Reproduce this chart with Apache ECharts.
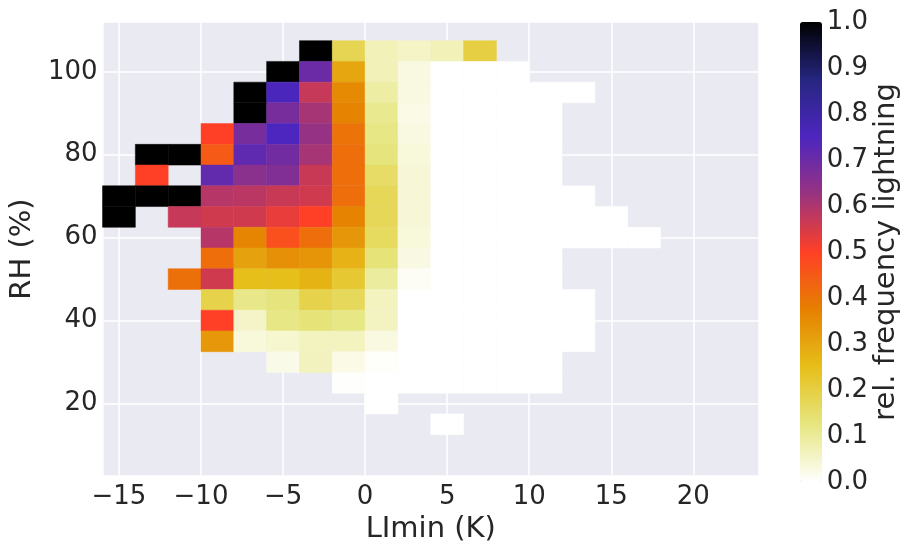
<!DOCTYPE html>
<html><head><meta charset="utf-8">
<script src="https://cdn.jsdelivr.net/npm/echarts@6/dist/echarts.min.js"></script>
<style>html,body{margin:0;padding:0;background:#fff}#c{width:902px;height:549px}</style>
</head><body><div id="c"></div><script>
// bin centres
const xCenters = [-15,-13,-11,-9,-7,-5,-3,-1,1,3,5,7,9,11,13,15,17];
const yCenters = [105,100,95,90,85,80,75,70,65,60,55,50,45,40,35,30,25,20,15];
const n = null;
// relative lightning frequency, one array per RH bin (columns follow xCenters)
const rh105 = [n,n,n,n,n,n,1.0,0.18,0.07,0.055,0.07,0.20,n,n,n,n,n];
const rh100 = [n,n,n,n,n,1.0,0.70,0.30,0.07,0.03,0,0,0,n,n,n,n];
const rh95  = [n,n,n,n,1.0,0.755,0.57,0.355,0.09,0.03,0,0,0,0,0,n,n];
const rh90  = [n,n,n,n,1.0,0.68,0.61,0.37,0.11,0.025,0,0,0,0,n,n,n];
const rh85  = [n,n,n,0.50,0.68,0.75,0.63,0.40,0.12,0.03,0,0,0,0,n,n,n];
const rh80  = [n,1.0,1.0,0.45,0.72,0.69,0.61,0.41,0.13,0.035,0,0,0,0,n,n,n];
const rh75  = [n,0.50,n,0.715,0.65,0.665,0.567,0.41,0.157,0.038,0,0,0,0,n,n,n];
const rh70  = [1.0,1.0,1.0,0.59,0.585,0.567,0.557,0.41,0.173,0.038,0,0,0,0,0,n,n];
const rh65  = [1.0,n,0.57,0.557,0.557,0.528,0.50,0.37,0.173,0.038,0,0,0,0,0,0,n];
const rh60  = [n,n,n,0.59,0.365,0.469,0.41,0.33,0.165,0.036,0,0,0,0,0,0,0];
const rh55  = [n,n,n,0.41,0.31,0.343,0.333,0.276,0.135,0.028,0,0,0,0,n,n,n];
const rh50  = [n,n,0.406,0.557,0.25,0.25,0.274,0.22,0.094,0.01,0,0,0,0,n,n,n];
const rh45  = [n,n,n,0.19,0.115,0.13,0.19,0.17,0.062,0,0,0,0,0,0,n,n];
const rh40  = [n,n,n,0.50,0.054,0.12,0.135,0.12,0.06,0,0,0,0,0,0,n,n];
const rh35  = [n,n,n,0.327,0.035,0.047,0.062,0.062,0.03,0,0,0,0,0,0,n,n];
const rh30  = [n,n,n,n,n,0.023,0.063,0.025,0.005,0,0,0,0,0,n,n,n];
const rh25  = [n,n,n,n,n,n,n,0.003,0,0,0,0,0,0,n,n,n];
const rh20  = [n,n,n,n,n,n,n,n,0,n,n,n,n,n,n,n,n];
const rh15  = [n,n,n,n,n,n,n,n,n,n,0,n,n,n,n,n,n];
const rows = [rh105,rh100,rh95,rh90,rh85,rh80,rh75,rh70,rh65,rh60,rh55,rh50,rh45,rh40,rh35,rh30,rh25,rh20,rh15];

const xTicks = [-15,-10,-5,0,5,10,15,20];
const yTicks = [20,40,60,80,100];
const cbTicks = [0,0.1,0.2,0.3,0.4,0.5,0.6,0.7,0.8,0.9,1.0];
const cmap = ['#ffffff','#e6e680','#e6bf1a','#e68000','#ff4026','#993380','#4d26bf','#262680','#000000'];

const data = [];
rows.forEach((r, i) => r.forEach((v, j) => { if (v !== null) data.push([xCenters[j], yCenters[i], v]); }));
const halfX = (xCenters[1] - xCenters[0]) / 2;
const halfY = (yCenters[0] - yCenters[1]) / 2;

const FONT = 'DejaVu Sans';
const TXT = '#262626';
const fmtNum = v => (v < 0 ? '\u2212' + Math.abs(v) : String(v));

const chart = echarts.init(document.getElementById('c'), null, {renderer: 'canvas'});
chart.setOption({
  animation: false,
  backgroundColor: '#ffffff',
  textStyle: {fontFamily: FONT, color: TXT},
  grid: [
    {left: 102, top: 22, width: 657, height: 460, show: true, backgroundColor: '#eaeaf2', borderWidth: 0},
    {left: 800, top: 22, width: 22, height: 460, show: false}
  ],
  xAxis: [
    {type: 'value', gridIndex: 0, min: -16, max: 24, minInterval: 5, maxInterval: 5,
     axisLine: {show: false}, axisTick: {show: false},
     splitLine: {show: true, lineStyle: {color: '#ffffff', width: 1.5}},
     axisLabel: {fontSize: 26, color: TXT, fontFamily: FONT, margin: 8,
       formatter: v => xTicks.includes(v) ? fmtNum(v) : ''},
     name: 'LImin (K)', nameLocation: 'middle', nameGap: 36,
     nameTextStyle: {fontSize: 29, color: TXT, fontFamily: FONT}},
    {type: 'value', gridIndex: 1, show: false, min: 0, max: 1}
  ],
  yAxis: [
    {type: 'value', gridIndex: 0, min: 2.5, max: 112, minInterval: 20, maxInterval: 20,
     axisLine: {show: false}, axisTick: {show: false},
     splitLine: {show: true, lineStyle: {color: '#ffffff', width: 1.5}},
     axisLabel: {fontSize: 26, color: TXT, fontFamily: FONT, margin: 5,
       formatter: v => yTicks.includes(v) ? fmtNum(v) : ''},
     name: 'RH (%)', nameLocation: 'middle', nameGap: 60, nameRotate: 90,
     nameTextStyle: {fontSize: 29, color: TXT, fontFamily: FONT}},
    {type: 'value', gridIndex: 1, position: 'right', min: 0, max: 1, interval: 0.1,
     axisLine: {show: false}, axisTick: {show: false}, splitLine: {show: false},
     axisLabel: {fontSize: 26, color: TXT, fontFamily: FONT, margin: 6,
       formatter: v => cbTicks.some(t => Math.abs(t - v) < 1e-6) ? v.toFixed(1) : ''},
     name: 'rel. frequency lightning', nameLocation: 'middle', nameGap: 50, nameRotate: 90,
     nameTextStyle: {fontSize: 29, color: TXT, fontFamily: FONT}}
  ],
  visualMap: {
    type: 'continuous', min: 0, max: 1, seriesIndex: 0, dimension: 2,
    inRange: {color: cmap}, calculable: false, left: 800, top: 22,
    itemWidth: 22, itemHeight: 460, padding: 0, text: null, hoverLink: false
  },
  series: [{
    type: 'custom', xAxisIndex: 0, yAxisIndex: 0, clip: true,
    encode: {x: 0, y: 1},
    data: data,
    renderItem: function (params, api) {
      const x = api.value(0), y = api.value(1);
      const p0 = api.coord([x - halfX, y + halfY]);
      const p1 = api.coord([x + halfX, y - halfY]);
      return {type: 'rect',
        shape: {x: p0[0], y: p0[1], width: p1[0] - p0[0], height: p1[1] - p0[1]},
        style: {fill: api.visual('color'), stroke: api.visual('color'), lineWidth: 0.5}};
    }
  }]
});
</script></body></html>
